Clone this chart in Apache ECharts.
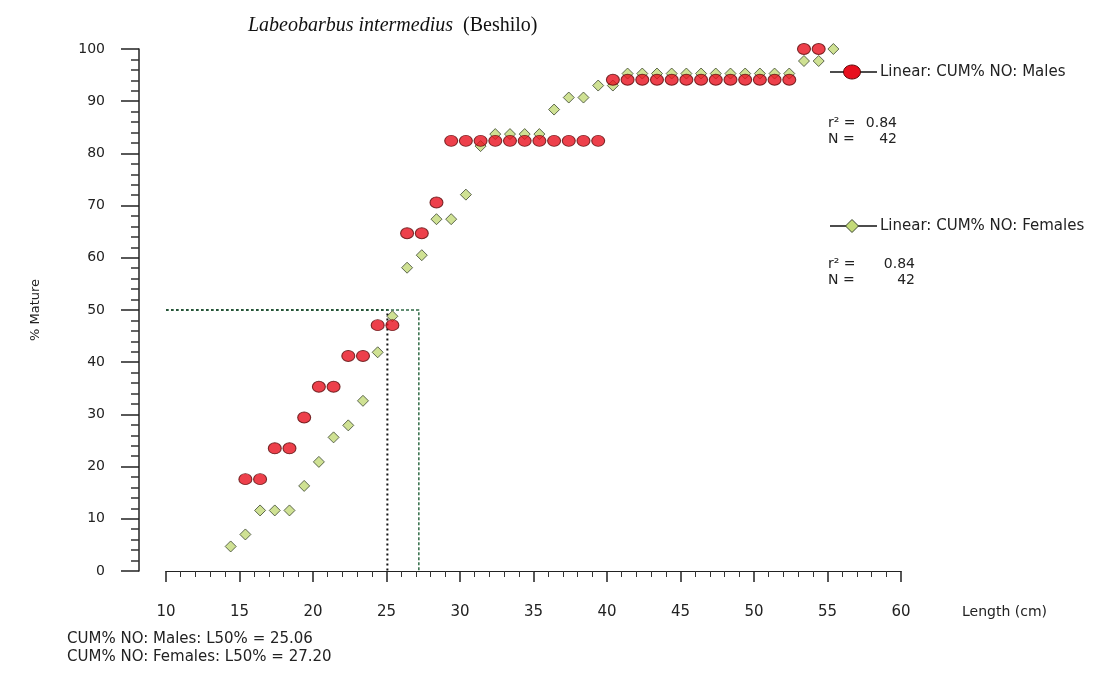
<!DOCTYPE html>
<html>
<head>
<meta charset="utf-8">
<script src="https://cdn.jsdelivr.net/npm/echarts@6/dist/echarts.min.js"></script>
<style>html,body{margin:0;padding:0;background:#fff;}#c{width:1116px;height:673px;}</style>
</head>
<body>
<div id="c"></div>
<script>
// ---- data ----
const maleLength = [15.4,16.4,17.4,18.4,19.4,20.4,21.4,22.4,23.4,24.4,25.4,26.4,27.4,28.4,
  29.4,30.4,31.4,32.4,33.4,34.4,35.4,36.4,37.4,38.4,39.4,
  40.4,41.4,42.4,43.4,44.4,45.4,46.4,47.4,48.4,49.4,50.4,51.4,52.4,53.4,54.4];
const maleCum = [17.6,17.6,23.5,23.5,29.4,35.3,35.3,41.2,41.2,47.1,47.1,64.7,64.7,70.6,
  82.4,82.4,82.4,82.4,82.4,82.4,82.4,82.4,82.4,82.4,82.4,
  94.1,94.1,94.1,94.1,94.1,94.1,94.1,94.1,94.1,94.1,94.1,94.1,94.1,100,100];
const femaleLength = [14.4,15.4,16.4,17.4,18.4,19.4,20.4,21.4,22.4,23.4,24.4,25.4,26.4,27.4,28.4,29.4,30.4,
  31.4,32.4,33.4,34.4,35.4,36.4,37.4,38.4,39.4,40.4,
  41.4,42.4,43.4,44.4,45.4,46.4,47.4,48.4,49.4,50.4,51.4,52.4,53.4,54.4,55.4];
const femaleCum = [4.7,7.0,11.6,11.6,11.6,16.3,20.9,25.6,27.9,32.6,41.9,48.8,58.1,60.5,67.4,67.4,72.1,
  81.4,83.7,83.7,83.7,83.7,88.4,90.7,90.7,93.0,93.0,
  95.3,95.3,95.3,95.3,95.3,95.3,95.3,95.3,95.3,95.3,95.3,95.3,97.7,97.7,100];
const xTicks = [10,15,20,25,30,35,40,45,50,55,60];
const yTicks = [0,10,20,30,40,50,60,70,80,90,100];
const L50Male = 25.06, L50Female = 27.20;
const r2Male = '0.84', nMale = '42', r2Female = '0.84', nFemale = '42';

const zip = (a, b) => a.map((v, i) => [v, b[i]]);
const FONT = '"DejaVu Sans", "Liberation Sans", Arial, sans-serif';
const RED = '#e8101e', RED_B = '#5a0a0a';
const GRN = '#c3da78', GRN_B = '#3b4630';

const chart = echarts.init(document.getElementById('c'));
chart.setOption({
  animation: false,
  backgroundColor: '#fff',
  title: {
    left: 243, top: 11,
    text: '{a|Labeobarbus intermedius}  {b|(Beshilo)}',
    textStyle: {
      fontWeight: 'normal',
      rich: {
        a: { fontFamily: '"Liberation Serif", "DejaVu Serif", serif', fontStyle: 'italic', fontWeight: 'normal', fontSize: 20, color: '#111' },
        b: { fontFamily: '"Liberation Serif", "DejaVu Serif", serif', fontWeight: 'normal', fontSize: 20, color: '#111' }
      }
    }
  },
  grid: { left: 166, right: 215, top: 49, bottom: 102, containLabel: false },
  xAxis: {
    type: 'value', min: xTicks[0], max: xTicks[xTicks.length - 1], interval: 5,
    offset: 2,
    axisLine: { show: true, lineStyle: { color: '#222', width: 1 } },
    axisTick: { show: true, length: 11, lineStyle: { color: '#222', width: 1.5 } },
    minorTick: { show: true, splitNumber: 5, length: 6, lineStyle: { color: '#333', width: 1 } },
    axisLabel: { margin: 32, fontFamily: FONT, fontSize: 15, color: '#222' },
    splitLine: { show: false }
  },
  yAxis: {
    type: 'value', min: yTicks[0], max: yTicks[yTicks.length - 1], interval: 10,
    offset: 27,
    axisLine: { show: true, lineStyle: { color: '#222', width: 1.5 } },
    axisTick: { show: true, length: 18, lineStyle: { color: '#222', width: 1.5 } },
    minorTick: { show: true, splitNumber: 5, length: 8, lineStyle: { color: '#333', width: 1.5 } },
    axisLabel: { margin: 34, fontFamily: FONT, fontSize: 14, color: '#222' },
    splitLine: { show: false }
  },
  series: [
    {
      name: 'L50 Males', type: 'line', silent: true, symbol: 'none', z: 1,
      data: [[xTicks[0], 50], [L50Male, 50], [L50Male, 0]],
      lineStyle: { color: '#111', width: 2, type: [2, 3] }
    },
    {
      name: 'L50 Females', type: 'line', silent: true, symbol: 'none', z: 1,
      data: [[xTicks[0], 50], [L50Female, 50], [L50Female, 0]],
      lineStyle: { color: '#2f6a45', width: 1.5, type: [3, 2] }
    },
    {
      name: 'Linear: CUM% NO: Females', type: 'scatter', z: 3,
      symbol: 'diamond', symbolSize: [11, 11],
      itemStyle: { color: GRN, borderColor: GRN_B, borderWidth: 1 },
      data: zip(femaleLength, femaleCum)
    },
    {
      name: 'Linear: CUM% NO: Males', type: 'scatter', z: 4,
      symbol: 'circle', symbolSize: [13, 11],
      itemStyle: { color: RED, borderColor: RED_B, borderWidth: 1 },
      data: zip(maleLength, maleCum)
    }
  ],
  graphic: [
    // axis names
    { type: 'text', left: 962, top: 605, style: { text: 'Length (cm)', font: '14px ' + FONT, fill: '#222' } },
    { type: 'text', x: 36, y: 310, rotation: Math.PI / 2,
      style: { text: '% Mature', font: '13px ' + FONT, fill: '#222', align: 'center', verticalAlign: 'middle' } },
    // L50 notes
    { type: 'text', left: 67, top: 632, style: { text: 'CUM% NO: Males: L50% = ' + L50Male.toFixed(2), font: '15px ' + FONT, fill: '#222' } },
    { type: 'text', left: 67, top: 650, style: { text: 'CUM% NO: Females: L50% = ' + L50Female.toFixed(2), font: '15px ' + FONT, fill: '#222' } },
    // legend: males
    { type: 'line', shape: { x1: 830, y1: 72, x2: 877, y2: 72 }, style: { stroke: '#111', lineWidth: 1.5 } },
    { type: 'ellipse', shape: { cx: 852, cy: 72, rx: 8.5, ry: 7 }, style: { fill: RED, stroke: RED_B, lineWidth: 1 } },
    { type: 'text', x: 880, y: 72, style: { text: 'Linear: CUM% NO: Males', font: '15px ' + FONT, fill: '#222', verticalAlign: 'middle' } },
    { type: 'text', x: 828, y: 123, style: { text: 'r² =', font: '14px ' + FONT, fill: '#222', verticalAlign: 'middle' } },
    { type: 'text', x: 897, y: 123, style: { text: r2Male, font: '14px ' + FONT, fill: '#222', align: 'right', verticalAlign: 'middle' } },
    { type: 'text', x: 828, y: 139, style: { text: 'N =', font: '14px ' + FONT, fill: '#222', verticalAlign: 'middle' } },
    { type: 'text', x: 897, y: 139, style: { text: nMale, font: '14px ' + FONT, fill: '#222', align: 'right', verticalAlign: 'middle' } },
    // legend: females
    { type: 'line', shape: { x1: 830, y1: 226, x2: 877, y2: 226 }, style: { stroke: '#111', lineWidth: 1.5 } },
    { type: 'polygon', shape: { points: [[852, 219.5], [858.5, 226], [852, 232.5], [845.5, 226]] }, style: { fill: GRN, stroke: GRN_B, lineWidth: 1 } },
    { type: 'text', x: 880, y: 226, style: { text: 'Linear: CUM% NO: Females', font: '15px ' + FONT, fill: '#222', verticalAlign: 'middle' } },
    { type: 'text', x: 828, y: 264, style: { text: 'r² =', font: '14px ' + FONT, fill: '#222', verticalAlign: 'middle' } },
    { type: 'text', x: 915, y: 264, style: { text: r2Female, font: '14px ' + FONT, fill: '#222', align: 'right', verticalAlign: 'middle' } },
    { type: 'text', x: 828, y: 280, style: { text: 'N =', font: '14px ' + FONT, fill: '#222', verticalAlign: 'middle' } },
    { type: 'text', x: 915, y: 280, style: { text: nFemale, font: '14px ' + FONT, fill: '#222', align: 'right', verticalAlign: 'middle' } }
  ]
});
</script>
</body>
</html>
